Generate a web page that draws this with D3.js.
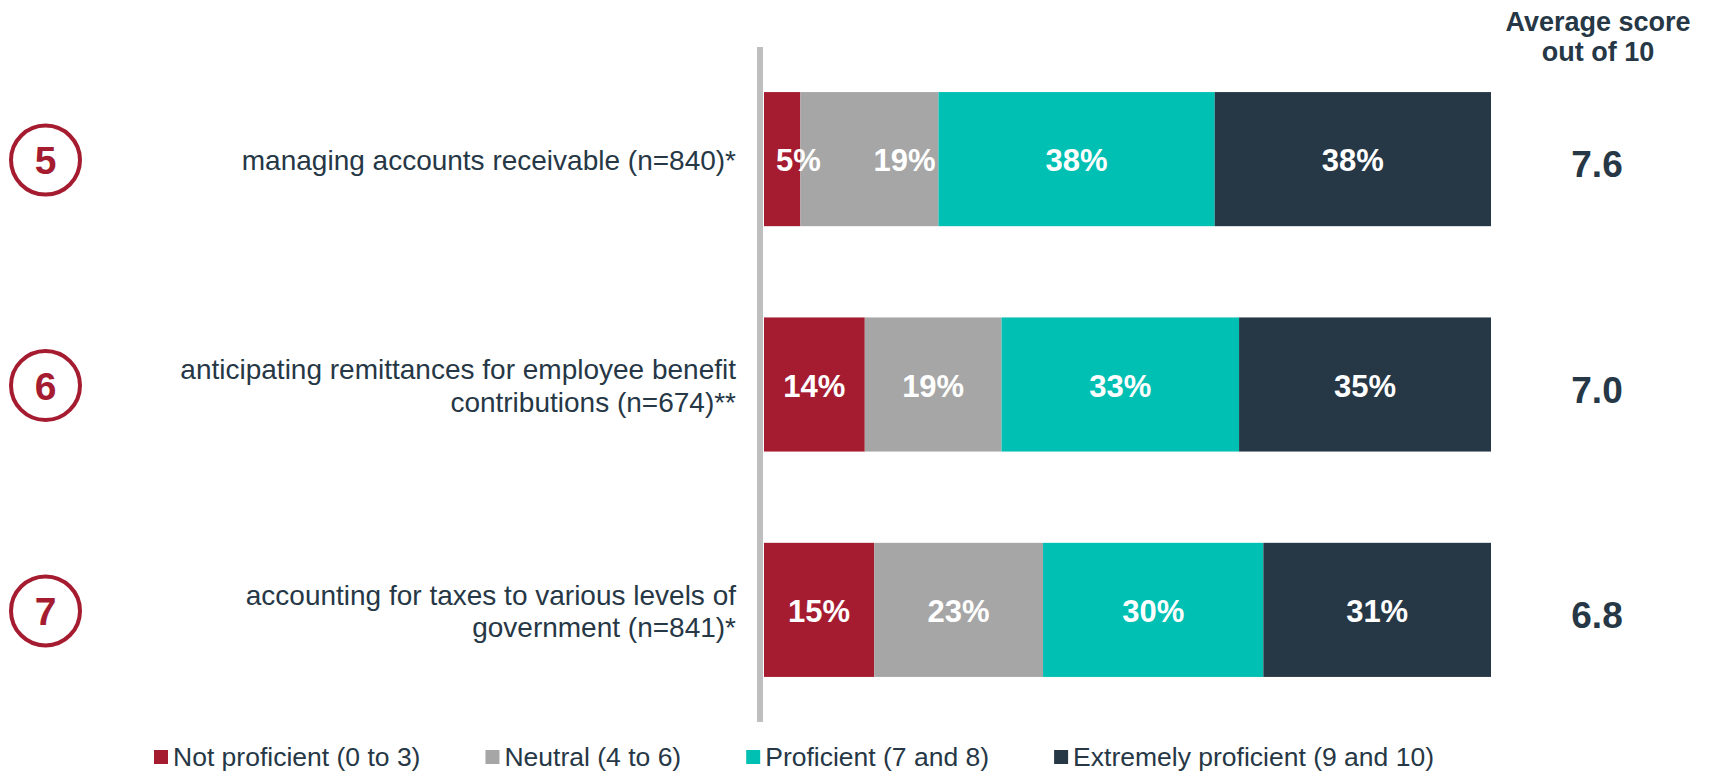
<!DOCTYPE html>
<html>
<head>
<meta charset="utf-8">
<script src="https://cdn.jsdelivr.net/npm/d3@7"></script>
<style>
  body { margin: 0; background: #fff; }
  text { font-family: "Liberation Sans", Arial, sans-serif; }
</style>
</head>
<body>
<div id="chart"></div>
<script>
// chart data
var rankNumbers = ["5", "6", "7"];
var rowLabels = [
    ["managing accounts receivable (n=840)*"],
    ["anticipating remittances for employee benefit", "contributions (n=674)**"],
    ["accounting for taxes to various levels of", "government (n=841)*"]
];
var seriesNames = ["Not proficient (0 to 3)", "Neutral (4 to 6)", "Proficient (7 and 8)", "Extremely proficient (9 and 10)"];
var notProficient = [5, 14, 15];
var neutral = [19, 19, 23];
var proficient = [38, 33, 30];
var extremelyProficient = [38, 35, 31];
var avgScores = [7.6, 7.0, 6.8];

var colors = ["#A51C30", "#A6A6A6", "#00BFB3", "#263746"];
var textColor = "#263746";

var W = 1709, H = 771;

// build rows for the stack
var keys = ["k0", "k1", "k2", "k3"];
var rows = rankNumbers.map(function (r, i) {
    return { rank: r, k0: notProficient[i], k1: neutral[i], k2: proficient[i], k3: extremelyProficient[i] };
});

var stack = d3.stack().keys(keys).offset(d3.stackOffsetExpand);
var stacked = stack(rows);

var svg = d3.select("#chart").append("svg")
    .attr("width", W)
    .attr("height", H);

var x = d3.scaleLinear().domain([0, 1]).range([764, 1491]);
var y = d3.scaleBand().domain(rankNumbers).range([47, 722])
    .paddingInner(0.405).paddingOuter(0.2);

// vertical axis line
svg.append("line")
    .attr("x1", 760).attr("x2", 760)
    .attr("y1", y.range()[0]).attr("y2", y.range()[1])
    .attr("stroke", "#BFBFBF").attr("stroke-width", 6);

// bars
var layers = svg.selectAll("g.layer")
    .data(stacked)
    .enter().append("g")
    .attr("class", "layer")
    .attr("fill", function (d, i) { return colors[i]; });

layers.selectAll("rect")
    .data(function (d) { return d; })
    .enter().append("rect")
    .attr("x", function (d) { return x(d[0]); })
    .attr("y", function (d) { return y(d.data.rank); })
    .attr("width", function (d) { return x(d[1]) - x(d[0]); })
    .attr("height", y.bandwidth());

// percentage labels, centred, but pushed right when a label does not fit
var labelG = svg.append("g");
rankNumbers.forEach(function (r, i) {
    var prevEnd = -Infinity;
    stacked.forEach(function (layer) {
        var d = layer[i];
        var x0 = x(d[0]), x1 = x(d[1]);
        var t = labelG.append("text")
            .attr("y", y(r) + y.bandwidth() / 2 + 12)
            .attr("fill", "#fff")
            .style("font-weight", "bold")
            .style("font-size", "31px")
            .text(d.data[layer.key] + "%");
        var w = t.node().getComputedTextLength();
        var left = (x0 + x1) / 2 - w / 2;
        if (w > x1 - x0 - 10) left = x0 + 12;
        if (left < prevEnd + 20) left = x1 - w - 3;
        t.attr("x", left);
        prevEnd = left + w;
    });
});

// circled rank numbers
rankNumbers.forEach(function (r, i) {
    var cy = y(r) + y.bandwidth() / 2 + 1;
    svg.append("circle")
        .attr("cx", 45.5).attr("cy", cy).attr("r", 34.5)
        .attr("fill", "none").attr("stroke", colors[0]).attr("stroke-width", 4);
    svg.append("text")
        .attr("x", 45.5).attr("y", cy + 14)
        .attr("text-anchor", "middle")
        .attr("fill", colors[0])
        .style("font-weight", "bold").style("font-size", "39px")
        .text(r);

    // row label
    var lines = rowLabels[i];
    var t = svg.append("text")
        .attr("text-anchor", "end")
        .attr("fill", textColor)
        .style("font-size", "28px");
    lines.forEach(function (ln, j) {
        var off = (j - (lines.length - 1) / 2) * 32.5;
        t.append("tspan")
            .attr("x", 736)
            .attr("y", cy + off + 10)
            .text(ln);
    });

    // average score
    svg.append("text")
        .attr("x", 1597).attr("y", y(r) + y.bandwidth() / 2 + 18)
        .attr("text-anchor", "middle")
        .attr("fill", textColor)
        .style("font-weight", "bold").style("font-size", "37px")
        .text(avgScores[i].toFixed(1));
});

// header
var hdr = svg.append("text")
    .attr("text-anchor", "middle")
    .attr("fill", textColor)
    .style("font-weight", "bold").style("font-size", "27px");
hdr.append("tspan").attr("x", 1598).attr("y", 31).text("Average score");
hdr.append("tspan").attr("x", 1598).attr("y", 61).text("out of 10");

// legend
var lx = 154;
seriesNames.forEach(function (name, i) {
    svg.append("rect")
        .attr("x", lx).attr("y", 750)
        .attr("width", 14).attr("height", 14)
        .attr("fill", colors[i]);
    var lt = svg.append("text")
        .attr("x", lx + 19).attr("y", 766)
        .attr("fill", textColor)
        .style("font-size", "26.5px")
        .text(name);
    lx = lx + 19 + lt.node().getComputedTextLength() + 65;
});
</script>
</body>
</html>
